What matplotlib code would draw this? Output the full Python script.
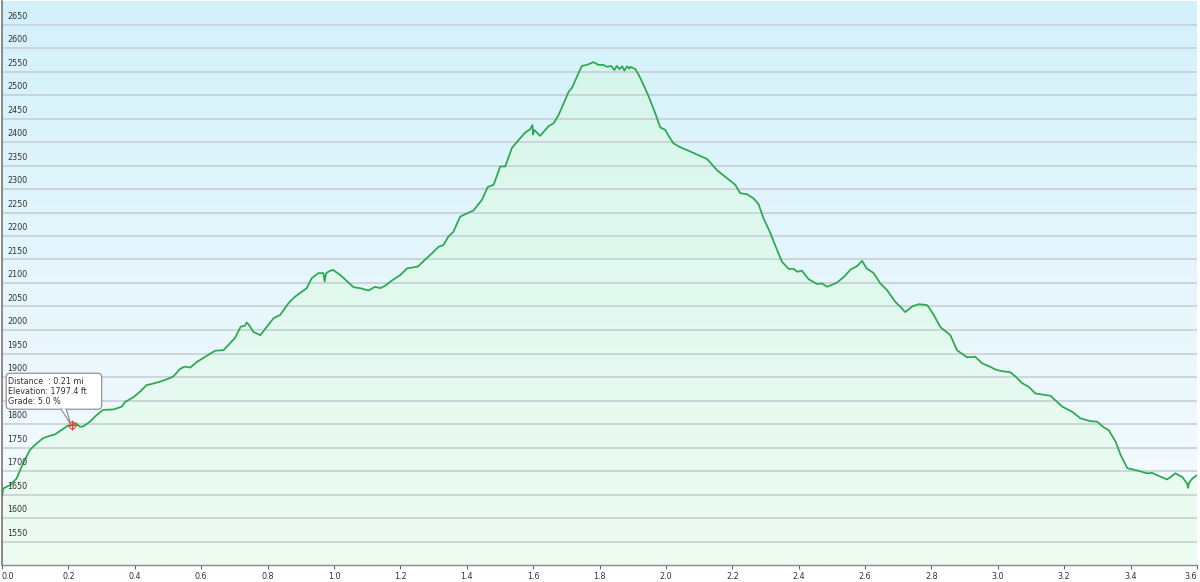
import matplotlib
matplotlib.use("Agg")
import matplotlib.pyplot as plt
import matplotlib.transforms as mtransforms
from matplotlib.patches import FancyBboxPatch, Polygon
import numpy as np

# ---- data ----
distance_mi = [
    0.000, 0.004, 0.024, 0.044, 0.059, 0.084, 0.105, 0.124, 0.140, 0.160,
    0.195, 0.210, 0.222, 0.235, 0.245, 0.265, 0.285, 0.305, 0.336, 0.361,
    0.371, 0.396, 0.416, 0.436, 0.450, 0.476, 0.496, 0.516, 0.536, 0.550,
    0.567, 0.587, 0.617, 0.642, 0.667, 0.687, 0.702, 0.719, 0.732, 0.737,
    0.745, 0.757, 0.778, 0.798, 0.818, 0.838, 0.863, 0.883, 0.918, 0.933,
    0.953, 0.968, 0.972, 0.976, 0.983, 0.997, 1.019, 1.059, 1.079, 1.104,
    1.124, 1.139, 1.154, 1.174, 1.200, 1.220, 1.253, 1.275, 1.295, 1.315,
    1.330, 1.345, 1.360, 1.380, 1.400, 1.420, 1.446, 1.463, 1.481, 1.501,
    1.516, 1.536, 1.556, 1.576, 1.591, 1.598, 1.600, 1.603, 1.621, 1.647,
    1.662, 1.677, 1.692, 1.707, 1.717, 1.732, 1.747, 1.762, 1.782, 1.797,
    1.812, 1.822, 1.835, 1.845, 1.852, 1.860, 1.868, 1.875, 1.883, 1.890,
    1.893, 1.908, 1.918, 1.933, 1.948, 1.968, 1.983, 1.998, 2.008, 2.023,
    2.043, 2.073, 2.104, 2.124, 2.154, 2.184, 2.209, 2.224, 2.244, 2.264,
    2.279, 2.294, 2.315, 2.335, 2.350, 2.370, 2.385, 2.395, 2.410, 2.430,
    2.455, 2.470, 2.486, 2.516, 2.536, 2.557, 2.576, 2.591, 2.605, 2.626,
    2.646, 2.666, 2.691, 2.711, 2.721, 2.742, 2.762, 2.787, 2.797, 2.807,
    2.827, 2.857, 2.877, 2.907, 2.932, 2.953, 2.973, 2.993, 3.008, 3.038,
    3.053, 3.073, 3.093, 3.113, 3.159, 3.174, 3.194, 3.224, 3.249, 3.279,
    3.299, 3.319, 3.334, 3.355, 3.370, 3.390, 3.420, 3.450, 3.465, 3.480,
    3.510, 3.535, 3.556, 3.571, 3.573, 3.576, 3.586, 3.600,
]
elevation_ft = [
    1645, 1663, 1670, 1684, 1709, 1745, 1759, 1770, 1774, 1778,
    1795, 1797.4, 1802, 1794, 1795, 1805, 1819, 1830, 1831, 1837,
    1847, 1857, 1869, 1883, 1885, 1890, 1895, 1901, 1917, 1922,
    1920, 1932, 1945, 1956, 1957, 1972, 1983, 2007, 2009, 2016,
    2010, 1996, 1989, 2007, 2025, 2032, 2057, 2071, 2089, 2110,
    2121, 2121, 2103, 2120, 2124, 2128, 2117, 2091, 2089, 2084,
    2092, 2089, 2094, 2105, 2117, 2131, 2135, 2150, 2163, 2177,
    2181, 2199, 2209, 2241, 2248, 2254, 2277, 2304, 2309, 2348,
    2348, 2387, 2404, 2420, 2427, 2436, 2416, 2426, 2413, 2434,
    2440, 2458, 2482, 2507, 2515, 2539, 2562, 2564, 2570, 2564,
    2564, 2560, 2562, 2553, 2562, 2555, 2561, 2552, 2561, 2556,
    2560, 2555, 2543, 2521, 2497, 2461, 2431, 2426, 2413, 2397,
    2389, 2380, 2370, 2364, 2340, 2323, 2309, 2291, 2289, 2280,
    2268, 2238, 2206, 2170, 2145, 2130, 2130, 2124, 2126, 2108,
    2098, 2099, 2092, 2101, 2113, 2129, 2136, 2147, 2131, 2121,
    2099, 2085, 2060, 2046, 2038, 2050, 2055, 2053, 2043, 2032,
    2006, 1989, 1957, 1942, 1943, 1929, 1923, 1916, 1913, 1910,
    1901, 1887, 1879, 1865, 1860, 1850, 1837, 1826, 1812, 1806,
    1805, 1793, 1787, 1762, 1734, 1706, 1701, 1695, 1696, 1691,
    1682, 1695, 1687, 1672, 1664, 1675, 1684, 1691,
]
x_ticks = [0.0, 0.2, 0.4, 0.6, 0.8, 1.0, 1.2, 1.4, 1.6, 1.8, 2.0, 2.2, 2.4,
           2.6, 2.8, 3.0, 3.2, 3.4, 3.6]
y_ticks = [1550, 1600, 1650, 1700, 1750, 1800, 1850, 1900, 1950, 2000, 2050,
           2100, 2150, 2200, 2250, 2300, 2350, 2400, 2450, 2500, 2550, 2600, 2650]
tip_distance = 0.21
tip_elevation = 1797.4
tip_grade = 5.0

X0, X1 = 0.0, 3.6
Y0, Y1 = 1500, 2700

fig = plt.figure(figsize=(12, 5.82), dpi=100)
ax = fig.add_axes([2 / 1200, 17 / 582, 1195 / 1200, 564 / 582])
ax.set_xlim(X0, X1)
ax.set_ylim(Y0, Y1)

# background gradient
top_bg = np.array([211, 241, 251]) / 255
bot_bg = np.array([248, 252, 254]) / 255
t = np.linspace(0, 1, 256)[:, None]
bg = (top_bg[None, :] * (1 - t) + bot_bg[None, :] * t)[:, None, :]
ax.imshow(bg, extent=[X0, X1, Y0, Y1], aspect="auto", zorder=0, origin="upper")

# fill under curve with gradient
top_fill = np.array([212, 245, 236]) / 255
bot_fill = np.array([238, 252, 242]) / 255
fg = (top_fill[None, :] * (1 - t) + bot_fill[None, :] * t)[:, None, :]
im = ax.imshow(fg, extent=[X0, X1, Y0, Y1], aspect="auto", zorder=1, origin="upper")
verts = [(distance_mi[0], Y0)] + list(zip(distance_mi, elevation_ft)) + [(distance_mi[-1], Y0)]
clip = Polygon(verts, closed=True, facecolor="none", edgecolor="none", transform=ax.transData)
ax.add_patch(clip)
im.set_clip_path(clip)

# grid
for yv in y_ticks:
    ax.axhline(yv, color="#c4ccd2", lw=1.1, zorder=2)

# line
ax.plot(distance_mi, elevation_ft, color="#2aa84e", lw=1.25, zorder=3)

# y labels inside the plot (the one hidden by the tooltip in the original is skipped)
ylab_trans = mtransforms.blended_transform_factory(ax.transAxes, ax.transData)
for yv in y_ticks:
    if tip_elevation + 30 < yv < tip_elevation + 80:
        continue
    ax.annotate(str(yv), xy=(0, yv), xycoords=ylab_trans, xytext=(3.6, 2.6),
                textcoords="offset points", fontsize=5.8, color="#333333",
                ha="left", va="bottom", zorder=5)

ax.set_yticks([])
ax.set_xticks(x_ticks)
ax.set_xticklabels([f"{v:.1f}" for v in x_ticks], fontsize=5.8, color="#333333")
xt = ax.get_xticklabels()
xt[0].set_ha("left")
xt[-1].set_ha("right")
ax.tick_params(axis="x", direction="out", length=3, width=0.8, color="#666666", pad=2)
for s in ["top", "right"]:
    ax.spines[s].set_visible(False)
ax.spines["left"].set_color("#777777")
ax.spines["left"].set_linewidth(1.2)
ax.spines["bottom"].set_color("#888888")
ax.spines["bottom"].set_linewidth(1.0)
for s in ["left", "bottom"]:
    ax.spines[s].set_zorder(6)

# tooltip
anchor = mtransforms.ScaledTranslation(tip_distance, tip_elevation, ax.transData)
ptrans = fig.dpi_scale_trans + anchor
box = FancyBboxPatch((-0.655, 0.16), 0.955, 0.36,
                     boxstyle="round,pad=0,rounding_size=0.04",
                     facecolor="white", edgecolor="#888888", lw=0.8,
                     transform=ptrans, zorder=7)
ax.add_patch(box)
tri = Polygon([(-0.105, 0.165), (-0.01, 0.01), (-0.055, 0.165)], closed=True,
              facecolor="white", edgecolor="none", transform=ptrans, zorder=8)
ax.add_patch(tri)
ax.plot([-0.105, -0.01, -0.055], [0.16, 0.01, 0.16], color="#888888", lw=0.8,
        transform=ptrans, zorder=9)
ax.text(-0.64, 0.44, f"Distance  : {tip_distance:.2f} mi", fontsize=5.8, color="#333333",
        transform=ptrans, zorder=9, va="center")
ax.text(-0.64, 0.34, f"Elevation: {tip_elevation:.1f} ft", fontsize=5.8, color="#333333",
        transform=ptrans, zorder=9, va="center")
ax.text(-0.64, 0.24, f"Grade: {tip_grade:.1f} %", fontsize=5.8, color="#333333",
        transform=ptrans, zorder=9, va="center")
ax.plot([tip_distance], [tip_elevation], marker="o", ms=5, mfc="none", mec="#ff5555",
        mew=0.9, zorder=10)
ax.plot([tip_distance], [tip_elevation], marker="+", ms=7, color="#ff3333",
        mew=0.9, zorder=10)

fig.savefig("out.png", dpi=100)
